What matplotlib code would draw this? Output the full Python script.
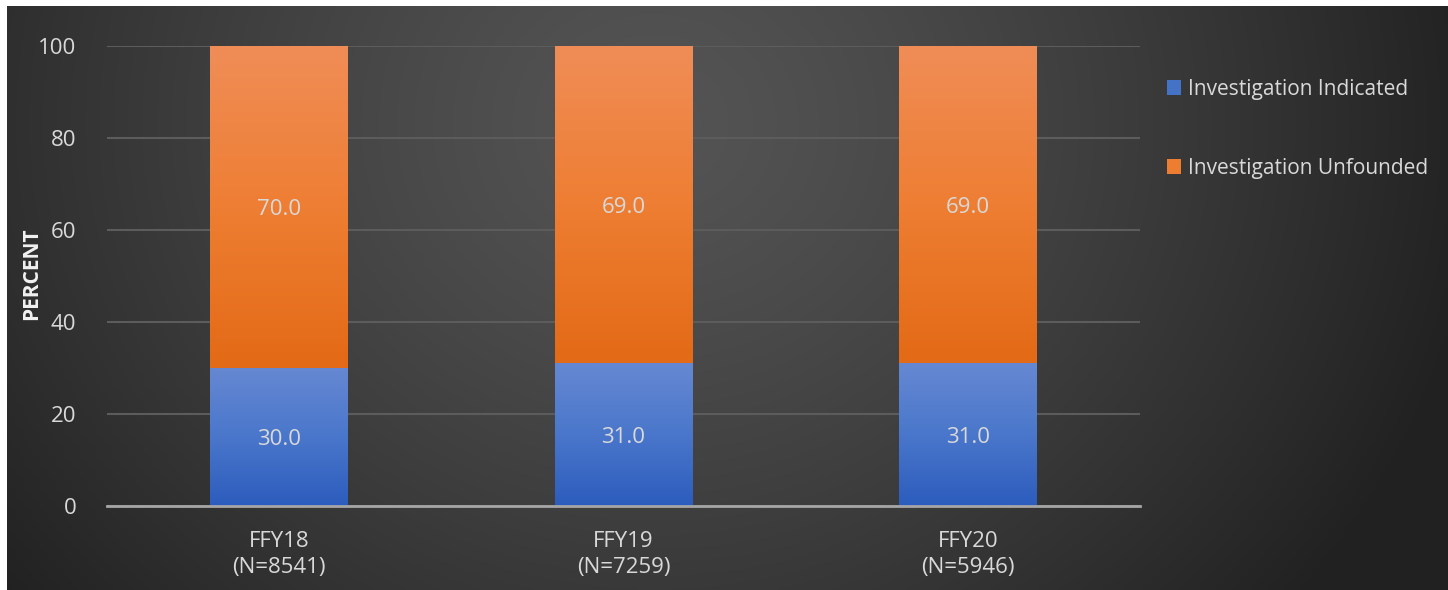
import numpy as np
import matplotlib.pyplot as plt
from matplotlib.colors import LinearSegmentedColormap
from matplotlib.patches import Rectangle


categories = ["FFY18\n(N=8541)", "FFY19\n(N=7259)", "FFY20\n(N=5946)"]
indicated = [30.0, 31.0, 31.0]
unfounded = [70.0, 69.0, 69.0]
yticks = [0, 20, 40, 60, 80, 100]

W, H = 1448, 590
plt.rcParams["font.family"] = ["Open Sans", "DejaVu Sans"]

fig = plt.figure(figsize=(W / 100, H / 100), dpi=100)
fig.patch.set_facecolor("#262626")

# dark background with a soft radial light in the middle
bg = fig.add_axes([7 / W, 0, 1 - 7 / W, 584 / H])
bg.set_axis_off()
gx, gy = np.meshgrid(np.linspace(0, 1, 400), np.linspace(0, 1, 200))
r = np.sqrt(((gx - 0.45) / 0.58) ** 2 + ((gy - 0.8) / 1.3) ** 2)
shade = 0.33 - (0.33 - 0.13) * np.clip(r, 0, 1) ** 1.3
bg.imshow(np.dstack([shade] * 3), extent=[0, 1, 0, 1], origin="lower", aspect="auto")
bg.set_xlim(0, 1)
bg.set_ylim(0, 1)

# white page margin at top and left
fig.patches.append(Rectangle((0, 584 / H), 1, 1, transform=fig.transFigure,
                             color="white", zorder=-1))
fig.patches.append(Rectangle((0, 0), 7 / W, 1, transform=fig.transFigure,
                             color="white", zorder=-1))

ax = fig.add_axes([107 / W, 84 / H, 1033 / W, 460 / H])
ax.patch.set_alpha(0)

x = np.arange(len(categories))
width = 0.40
b1 = ax.bar(x, indicated, width, color="#4472c4", label="Investigation Indicated", zorder=3)
b2 = ax.bar(x, unfounded, width, bottom=indicated, color="#ed7d31",
            label="Investigation Unfounded", zorder=3)

blue_cm = LinearSegmentedColormap.from_list("b", ["#2c5cbd", "#4a77cb", "#6688d2"])
orange_cm = LinearSegmentedColormap.from_list("o", ["#e36a16", "#ee7e33", "#f08d57"])
grad = np.linspace(0, 1, 256).reshape(-1, 1)
for bars, cm in [(b1, blue_cm), (b2, orange_cm)]:
    for p in bars:
        x0, y0 = p.get_x(), p.get_y()
        im = ax.imshow(grad, cmap=cm, origin="lower", aspect="auto", zorder=4,
                       extent=[x0, x0 + p.get_width(), y0, y0 + p.get_height()])
        im.set_clip_path(p)

for i in range(len(categories)):
    ax.text(x[i], indicated[i] / 2, f"{indicated[i]:.1f}", ha="center",
            va="center_baseline", color="#d9d9d9", fontsize=16, zorder=6)
    ax.text(x[i], indicated[i] + unfounded[i] / 2, f"{unfounded[i]:.1f}", ha="center",
            va="center_baseline", color="#d9d9d9", fontsize=16, zorder=6)

ax.set_xlim(-0.5, 2.5)
ax.set_ylim(0, 100)
ax.set_yticks(yticks)
ax.set_xticks(x)
ax.set_xticklabels(categories, color="#d9d9d9", fontsize=16, linespacing=1.3)
ax.tick_params(axis="y", length=0, pad=22, labelcolor="#d9d9d9", labelsize=16)
ax.tick_params(axis="x", length=0, pad=18)
ax.yaxis.grid(True, color="#5c5c5c", linewidth=1.5, zorder=1)
ax.set_axisbelow(True)
for s in ["top", "right", "left"]:
    ax.spines[s].set_visible(False)
ax.spines["bottom"].set_color("#a6a6a6")
ax.spines["bottom"].set_linewidth(2)
ax.spines["bottom"].set_zorder(5)

fig.text(32 / W, 1 - 274 / H, "PERCENT", rotation=90, ha="center", va="center",
         color="#f2f2f2", fontsize=15, fontweight="bold")

fig.legend(handles=[b1, b2], loc="upper left", bbox_to_anchor=(1148 / W, 1 - 60 / H),
           frameon=False, fontsize=15, labelcolor="#d9d9d9", handlelength=0.7,
           handleheight=0.7, handletextpad=0.3, labelspacing=2.8)

fig.savefig("out.png", dpi=100)
plt.close()
